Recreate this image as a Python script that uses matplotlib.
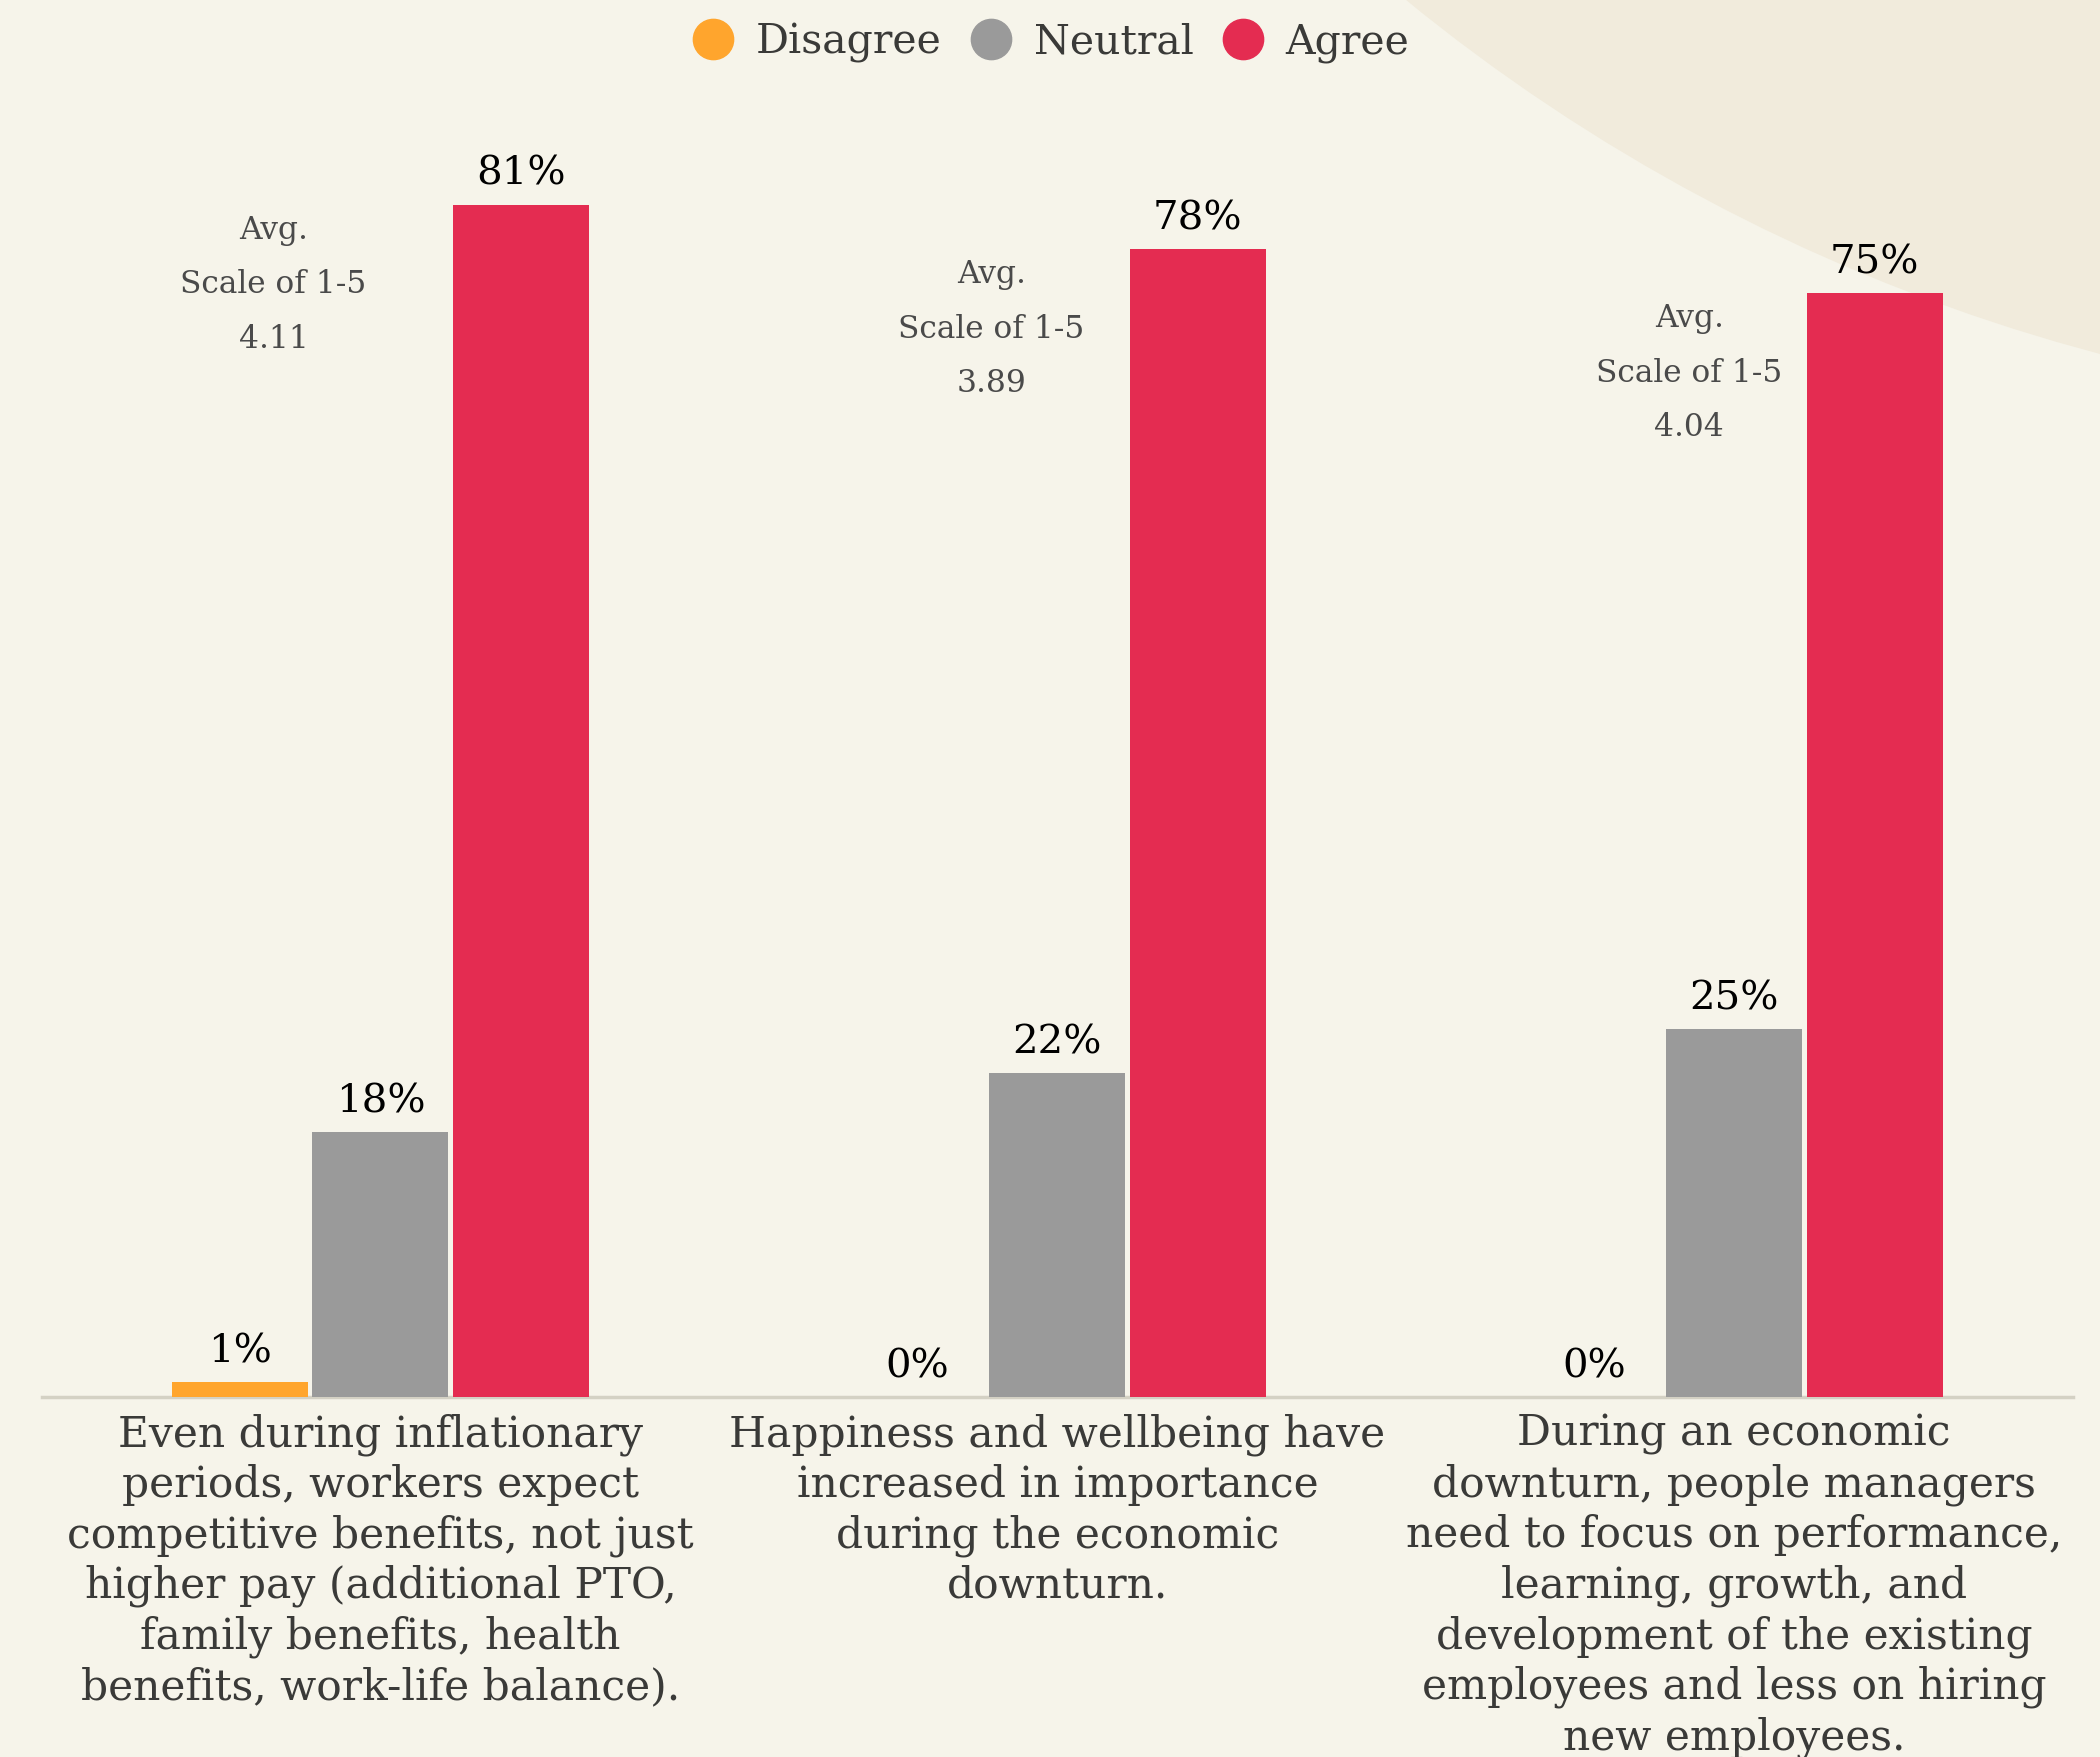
import numpy as np
import matplotlib.pyplot as plt
from matplotlib.patches import Circle
from matplotlib.lines import Line2D

# data
categories = [
    "Even during inflationary\nperiods, workers expect\ncompetitive benefits, not just\nhigher pay (additional PTO,\nfamily benefits, health\nbenefits, work-life balance).",
    "Happiness and wellbeing have\nincreased in importance\nduring the economic\ndownturn.",
    "During an economic\ndownturn, people managers\nneed to focus on performance,\nlearning, growth, and\ndevelopment of the existing\nemployees and less on hiring\nnew employees.",
]
series_names = ["Disagree", "Neutral", "Agree"]
disagree = [1, 0, 0]
neutral = [18, 22, 25]
agree = [81, 78, 75]
avg_scores = ["4.11", "3.89", "4.04"]

colors = ["#FFA52D", "#9A9A9A", "#E42C51"]
bg = "#F6F4EA"
arc_col = "#F1EBDC"
text_col = "#3A3A38"
serif = "DejaVu Serif"

fig = plt.figure(figsize=(21, 17.57), dpi=100, facecolor=bg)

# decorative arc in the top right corner
bgax = fig.add_axes([0, 0, 1, 1], zorder=-1)
bgax.set_xlim(0, 2100)
bgax.set_ylim(1757, 0)
bgax.axis("off")
bgax.add_patch(Circle((2570, -1425), 1840, color=arc_col, lw=0))

ax = fig.add_axes([0.02, 0.2049, 0.967, 0.754])
ax.set_facecolor("none")

x = np.arange(len(categories))
step = 0.2075
width = 0.201
for k, vals in enumerate([disagree, neutral, agree]):
    xs = x + (k - 1) * step
    ax.bar(xs, vals, width=width, color=colors[k], zorder=3)
    for xi, v in zip(xs, vals):
        ax.text(xi, v + 0.8, f"{v}%", ha="center", va="bottom",
                fontsize=29, family=serif, color="black", zorder=4)

# avg scale annotations
avg_dx = [-0.158, -0.0975, -0.0665]
for i, s in enumerate(avg_scores):
    y0 = agree[i] - 1.75
    for j, line in enumerate(["Avg.", "Scale of 1-5", s]):
        ax.text(x[i] + avg_dx[i], y0 - j * 3.7, line, ha="center", va="center",
                fontsize=22.5, family=serif, color="#4A4A4A")

# category labels below the baseline
for i, lab in enumerate(categories):
    ax.text(x[i], -1.1, lab, ha="center", va="top", fontsize=30.5, family=serif,
            color=text_col, linespacing=1.25, clip_on=False)

ax.set_xlim(-0.5, 2.5)
ax.set_ylim(0, 90)
ax.set_xticks([])
ax.set_yticks([])
for s in ["top", "right", "left"]:
    ax.spines[s].set_visible(False)
ax.spines["bottom"].set_color("#D4D1C4")
ax.spines["bottom"].set_linewidth(2.5)

handles = [Line2D([], [], marker="o", ls="", markersize=29, color=c) for c in colors]
leg = fig.legend(handles, series_names, loc="center", bbox_to_anchor=(0.4955, 1 - 43 / 1757),
                 ncol=3, frameon=False, handletextpad=0.05, columnspacing=0.2,
                 prop={"family": serif, "size": 29.5})
for t in leg.get_texts():
    t.set_color(text_col)

fig.savefig("out.png", dpi=100, facecolor=bg)
